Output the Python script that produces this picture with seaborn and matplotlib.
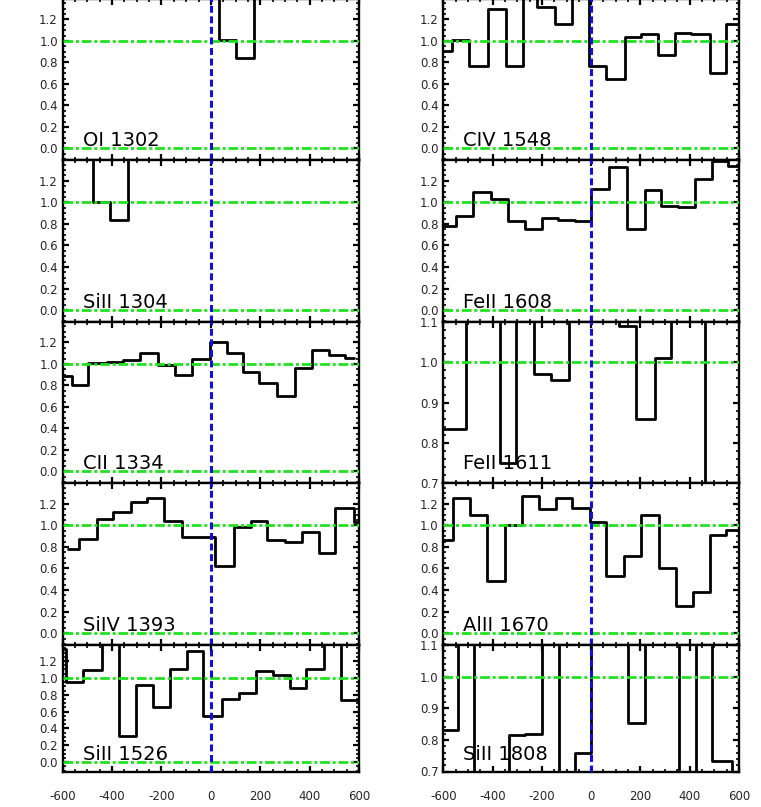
import matplotlib
matplotlib.use('Agg')
import matplotlib.pyplot as plt
from matplotlib.ticker import MultipleLocator, FormatStrFormatter
import seaborn as sns

# velocity bin edges (km/s) and normalised flux for each line
# (1.5 / 1.2 = off the top of the panel, 0.6 = below the bottom)
oi1302_v = [-617, -545, -473, -401, -329, -257, -185, -113, -41, 31, 103, 176, 248, 320, 392, 464, 536, 608]
oi1302_f = [1.5, 1.5, 1.5, 1.5, 1.5, 1.5, 1.5, 1.5, 1.5, 1.01, 0.84, 1.5, 1.5, 1.5, 1.5, 1.5, 1.5]

siii1304_v = [-616, -546, -476, -408, -334, -264, -194, -124, -54, 16, 86, 156, 226, 296, 366, 436, 506, 576, 646]
siii1304_f = [1.5, 1.5, 1.006, 0.84, 1.5, 1.5, 1.5, 1.5, 1.5, 1.5, 1.5, 1.5, 1.5, 1.5, 1.5, 1.5, 1.5, 1.5]

cii1334_v = [-610, -563, -496, -422, -354, -286, -216, -147, -77, -5, 65, 130, 197, 268, 342, 409, 477, 545, 578]
cii1334_f = [0.89, 0.80, 1.01, 1.015, 1.035, 1.10, 0.99, 0.90, 1.05, 1.20, 1.10, 0.925, 0.82, 0.705, 0.96, 1.13, 1.08, 1.055]

siiv1393_v = [-577, -532, -462, -395, -324, -259, -189, -118, -50, 18, 92, 162, 227, 301, 369, 437, 504, 578, 610]
siiv1393_f = [0.78, 0.87, 1.055, 1.12, 1.22, 1.25, 1.04, 0.895, 0.895, 0.62, 0.98, 1.04, 0.865, 0.85, 0.94, 0.74, 1.16, 1.03]

siii1526_v = [-610, -588, -516, -442, -374, -303, -235, -165, -97, -30, 45, 116, 184, 251, 319, 387, 460, 527, 610]
siii1526_f = [1.34, 0.95, 1.09, 1.5, 0.306, 0.92, 0.65, 1.107, 1.32, 0.55, 0.754, 0.82, 1.08, 1.03, 0.88, 1.107, 1.5, 0.74]

civ1548_v = [-610, -566, -496, -420, -347, -277, -219, -147, -76, -8, 62, 136, 204, 272, 339, 407, 481, 549, 610]
civ1548_f = [0.91, 1.01, 0.77, 1.30, 0.77, 1.5, 1.32, 1.16, 1.5, 0.77, 0.65, 1.04, 1.065, 0.87, 1.07, 1.06, 0.70, 1.16]

feii1608_v = [-610, -550, -478, -408, -336, -269, -199, -134, -67, -1, 73, 146, 218, 285, 353, 423, 492, 555, 610]
feii1608_f = [0.78, 0.87, 1.10, 1.03, 0.83, 0.75, 0.855, 0.835, 0.83, 1.12, 1.33, 0.75, 1.11, 0.97, 0.96, 1.22, 1.38, 1.34]

feii1611_v = [-610, -508, -439, -370, -303, -232, -161, -89, -22, 46, 113, 184, 258, 326, 393, 461, 530, 610]
feii1611_f = [0.835, 1.2, 1.2, 0.75, 1.2, 0.97, 0.957, 1.2, 1.2, 1.2, 1.09, 0.86, 1.01, 1.2, 1.2, 0.6, 0.6]

alii1670_v = [-610, -562, -492, -422, -350, -282, -211, -143, -76, -5, 62, 134, 204, 276, 343, 413, 481, 549, 610]
alii1670_f = [0.86, 1.25, 1.095, 0.48, 1.003, 1.275, 1.15, 1.25, 1.16, 1.03, 0.53, 0.72, 1.095, 0.60, 0.25, 0.385, 0.91, 0.96]

siii1808_v = [-610, -542, -474, -405, -335, -269, -199, -131, -64, -1, 75, 150, 220, 288, 355, 424, 490, 572, 610]
siii1808_f = [0.83, 1.2, 0.6, 0.6, 0.814, 0.818, 1.2, 0.6, 0.758, 1.2, 1.2, 0.853, 1.2, 1.2, 0.6, 1.2, 0.733, 0.6]

left_names = ['OI 1302', 'SiII 1304', 'CII 1334', 'SiIV 1393', 'SiII 1526']
right_names = ['CIV 1548', 'FeII 1608', 'FeII 1611', 'AlII 1670', 'SiII 1808']
left_data = [(oi1302_v, oi1302_f), (siii1304_v, siii1304_f), (cii1334_v, cii1334_f),
             (siiv1393_v, siiv1393_f), (siii1526_v, siii1526_f)]
right_data = [(civ1548_v, civ1548_f), (feii1608_v, feii1608_f), (feii1611_v, feii1611_f),
              (alii1670_v, alii1670_f), (siii1808_v, siii1808_f)]
zoomed = ['FeII 1611', 'SiII 1808']

sns.set_style('ticks')
plt.rcParams['font.family'] = ['DejaVu Sans']
plt.rcParams['axes.unicode_minus'] = False
plt.rcParams['lines.scale_dashes'] = False

W, H = 761, 807
fig = plt.figure(figsize=(W / 100, H / 100), dpi=100)

# panel edges in pixels (rows top->bottom, columns left/right)
row_px = [-1, 160.3, 322, 483.3, 645, 771.5]
col_px = [(62.7, 359), (443.3, 739)]


def draw_panel(ax, name, vel, flux, bottom_row):
    sns.lineplot(x=vel, y=list(flux) + [flux[-1]], ax=ax, color='black', lw=2.0,
                 drawstyle='steps-post', estimator=None, sort=False)
    ax.axhline(0.0, color='#22e022', lw=2.0, dashes=(7, 2, 2.2, 2), zorder=3)
    ax.axhline(1.0, color='#22e022', lw=2.0, dashes=(7, 2, 2.2, 2), zorder=3)
    ax.axvline(0.0, color='#1010d8', lw=2.2, dashes=(5, 2.6), zorder=4)

    ax.set_xlim(-600, 600)
    ax.xaxis.set_major_locator(MultipleLocator(200))
    ax.xaxis.set_minor_locator(MultipleLocator(50))
    if name in zoomed:
        ax.set_ylim(0.7, 1.1)
        ax.yaxis.set_major_locator(MultipleLocator(0.1))
        ax.yaxis.set_minor_locator(MultipleLocator(0.02))
    else:
        ax.set_ylim(-0.11, 1.39)
        ax.yaxis.set_major_locator(MultipleLocator(0.2))
        ax.yaxis.set_minor_locator(MultipleLocator(0.05))
    ax.yaxis.set_major_formatter(FormatStrFormatter('%.1f'))

    ax.tick_params(which='both', direction='in', top=True, right=True, color='black')
    ax.tick_params(which='major', length=4, width=1.6)
    ax.tick_params(which='minor', length=2, width=1.2)
    ax.tick_params(axis='y', labelsize=8.5, pad=3.5)
    ax.tick_params(axis='x', labelsize=8.5, pad=13, labelbottom=bottom_row)
    for sp in ax.spines.values():
        sp.set_linewidth(1.7)
        sp.set_color('black')
    ax.set_xlabel('')
    ax.set_ylabel('')
    ax.text(0.068, 0.088, name, transform=ax.transAxes, fontsize=14,
            ha='left', va='baseline', color='black')


for col, (names, data) in enumerate([(left_names, left_data), (right_names, right_data)]):
    x0, x1 = col_px[col]
    for row in range(5):
        t, b = row_px[row], row_px[row + 1]
        ax = fig.add_axes([x0 / W, 1 - b / H, (x1 - x0) / W, (b - t) / H])
        vel, flux = data[row]
        draw_panel(ax, names[row], vel, flux, row == 4)

fig.savefig('out.png', dpi=100)
